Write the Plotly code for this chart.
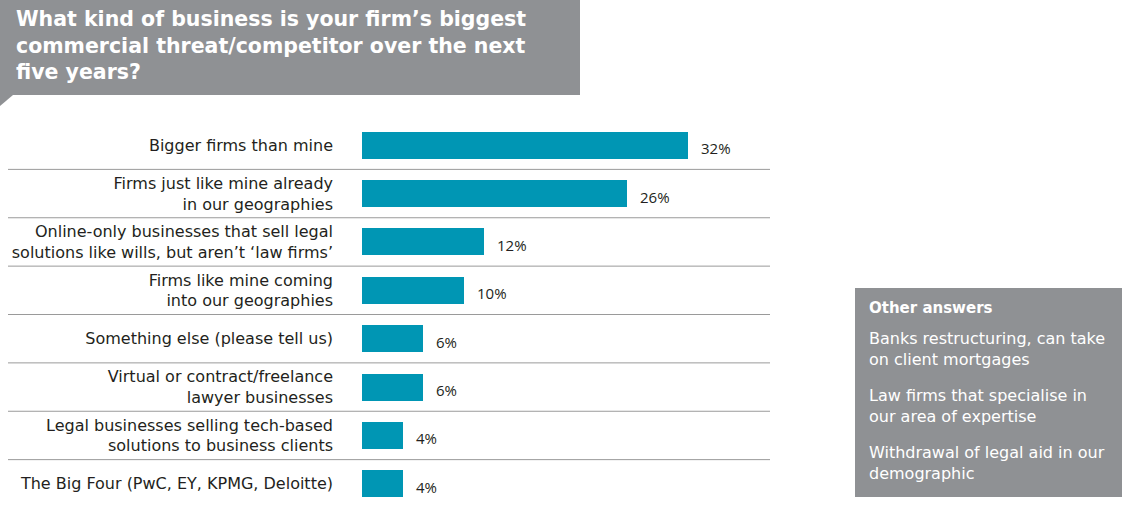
import plotly.graph_objects as go

# ---------------- data ----------------
categories = [
    "Bigger firms than mine",
    "Firms just like mine already<br>in our geographies",
    "Online-only businesses that sell legal<br>solutions like wills, but aren\u2019t \u2018law firms\u2019",
    "Firms like mine coming<br>into our geographies",
    "Something else (please tell us)",
    "Virtual or contract/freelance<br>lawyer businesses",
    "Legal businesses selling tech-based<br>solutions to business clients",
    "The Big Four (PwC, EY, KPMG, Deloitte)",
]
values = [32, 26, 12, 10, 6, 6, 4, 4]
value_labels = [f"{v}%" for v in values]

title_text = ("What kind of business is your firm\u2019s biggest<br>"
              "commercial threat/competitor over the next<br>five years?")
other_title = "Other answers"
other_answers = [
    "Banks restructuring, can take<br>on client mortgages",
    "Law firms that specialise in<br>our area of expertise",
    "Withdrawal of legal aid in our<br>demographic",
]

# ---------------- layout constants ----------------
W, H = 1122, 516
ML, MR, MT, MB = 362, 352, 121, 8
PW, PH = W - ML - MR, H - MT - MB
BAR = "#0096b4"
GREY = "#8f9194"
TXT = "#231f20"
FONT = "DejaVu Sans"
VFONT = "Open Sans"


def px2x(px):
    return (px - ML) / PW


def py2y(py):
    return (H - MB - py) / PH


fig = go.Figure()
fig.add_trace(go.Bar(
    x=values, y=categories, orientation="h",
    marker=dict(color=BAR, line=dict(width=0)),
    width=0.56, hoverinfo="skip",
))

annotations = []
for c, v, lab in zip(categories, values, value_labels):
    annotations.append(dict(
        x=v, y=c, xref="x", yref="y", text=lab, showarrow=False,
        xanchor="left", yanchor="middle", xshift=11, yshift=-3,
        font=dict(family=VFONT, size=15, color=TXT),
    ))

# title
annotations.append(dict(
    x=px2x(14), y=py2y(5), xref="paper", yref="paper", text=title_text,
    showarrow=False, xanchor="left", yanchor="top", align="left",
    font=dict(family=FONT, size=20.5, color="white", weight="bold"),
))
# other answers box text
annotations.append(dict(
    x=px2x(867), y=py2y(297), xref="paper", yref="paper", text=other_title,
    showarrow=False, xanchor="left", yanchor="top", align="left",
    font=dict(family=FONT, size=15, color="white", weight="bold"),
))
for i, t in enumerate(other_answers):
    annotations.append(dict(
        x=px2x(867), y=py2y(327 + i * 57), xref="paper", yref="paper", text=t,
        showarrow=False, xanchor="left", yanchor="top", align="left",
        font=dict(family=FONT, size=16, color="white"),
    ))

shapes = []
for i in range(len(categories) - 1):
    shapes.append(dict(
        type="line", xref="paper", yref="y",
        x0=px2x(8), x1=px2x(770), y0=i + 0.5, y1=i + 0.5,
        line=dict(color="#9a9a9a", width=1), layer="below",
    ))
shapes.append(dict(
    type="rect", xref="paper", yref="paper",
    x0=px2x(0), x1=px2x(580), y0=py2y(95), y1=py2y(0),
    fillcolor=GREY, line=dict(width=0), layer="below",
))
shapes.append(dict(
    type="path", xref="paper", yref="paper",
    path=f"M {px2x(0)},{py2y(95)} L {px2x(13)},{py2y(95)} L {px2x(0)},{py2y(106)} Z",
    fillcolor=GREY, line=dict(width=0), layer="below",
))
shapes.append(dict(
    type="rect", xref="paper", yref="paper",
    x0=px2x(855), x1=px2x(1122), y0=py2y(497), y1=py2y(288),
    fillcolor=GREY, line=dict(width=0), layer="below",
))

fig.update_layout(
    width=W, height=H, autosize=False,
    margin=dict(l=ML, r=MR, t=MT, b=MB, pad=0),
    paper_bgcolor="white", plot_bgcolor="white",
    showlegend=False, bargap=0,
    xaxis=dict(range=[0, 40], visible=False, fixedrange=True),
    yaxis=dict(
        type="category", categoryorder="array", categoryarray=categories,
        autorange="reversed", showgrid=False, zeroline=False, showline=False,
        ticks="", ticklabelstandoff=28, automargin=False,
        tickfont=dict(family=FONT, size=16, color=TXT), fixedrange=True,
    ),
    annotations=annotations, shapes=shapes,
)

fig.write_html("out.html", config={"displayModeBar": False})
